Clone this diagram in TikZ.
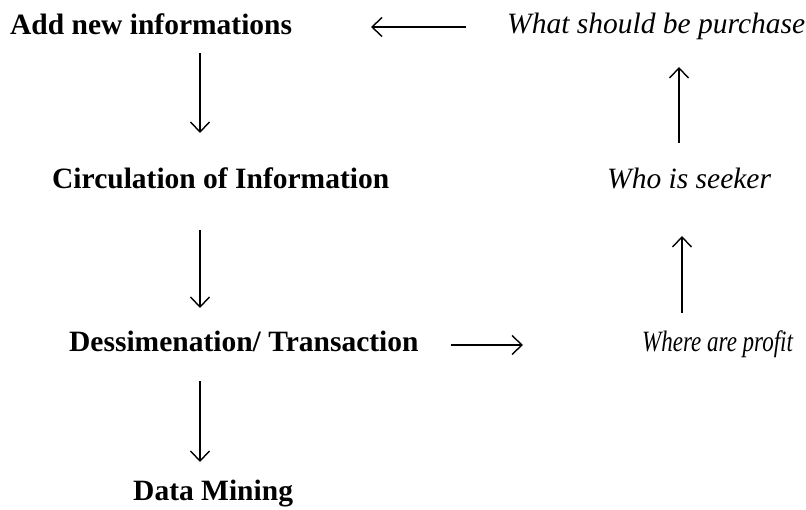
\documentclass[tikz,border=0pt]{standalone}
\usepackage{fontspec}
\setmainfont{Liberation Serif}
\usetikzlibrary{arrows.meta}
\begin{document}
\begin{tikzpicture}[x=1pt,y=-1pt,
  lbl/.style={anchor=base west,inner sep=0pt,font=\fontsize{29.5}{32}\selectfont\bfseries},
  ilbl/.style={anchor=base west,inner sep=0pt,font=\fontsize{29.5}{32}\selectfont\itshape},
  arr/.style={line width=1.5pt,-{Straight Barb[length=10pt,width=19pt,line width=1.4pt]}}]
\useasboundingbox (0,0) rectangle (806,510);
% left column
\node[lbl]  (add)   at (10,35)   {Add new informations};
\node[lbl]  (circ)  at (52,189)  {Circulation of Information};
\node[lbl]  (dess)  at (69,352)  {Dessimenation/ Transaction};
\node[lbl]  (data)  at (133,500) {Data Mining};
% right column
\node[ilbl] (what)  at (507,34)  {What should be purchase};
\node[ilbl] (who)   at (607,189) {Who is seeker};
\node[ilbl] (where) at (642,352) {\scalebox{0.78}[1]{Where are profit}};
% arrow end points
\coordinate (a1s) at (200,53);  \coordinate (a1e) at (200,133);
\coordinate (a2s) at (200,230); \coordinate (a2e) at (200,308);
\coordinate (a3s) at (200,381); \coordinate (a3e) at (200,462);
\coordinate (h1s) at (451,345); \coordinate (h1e) at (523,345);
\coordinate (u1s) at (682,313); \coordinate (u1e) at (682,236);
\coordinate (u2s) at (679,143); \coordinate (u2e) at (679,67);
\coordinate (t1s) at (466,27);  \coordinate (t1e) at (371,27);
\draw[arr] (a1s) -- (a1e);
\draw[arr] (a2s) -- (a2e);
\draw[arr] (a3s) -- (a3e);
\draw[arr] (h1s) -- (h1e);
\draw[arr] (u1s) -- (u1e);
\draw[arr] (u2s) -- (u2e);
\draw[arr] (t1s) -- (t1e);
\end{tikzpicture}
\end{document}
